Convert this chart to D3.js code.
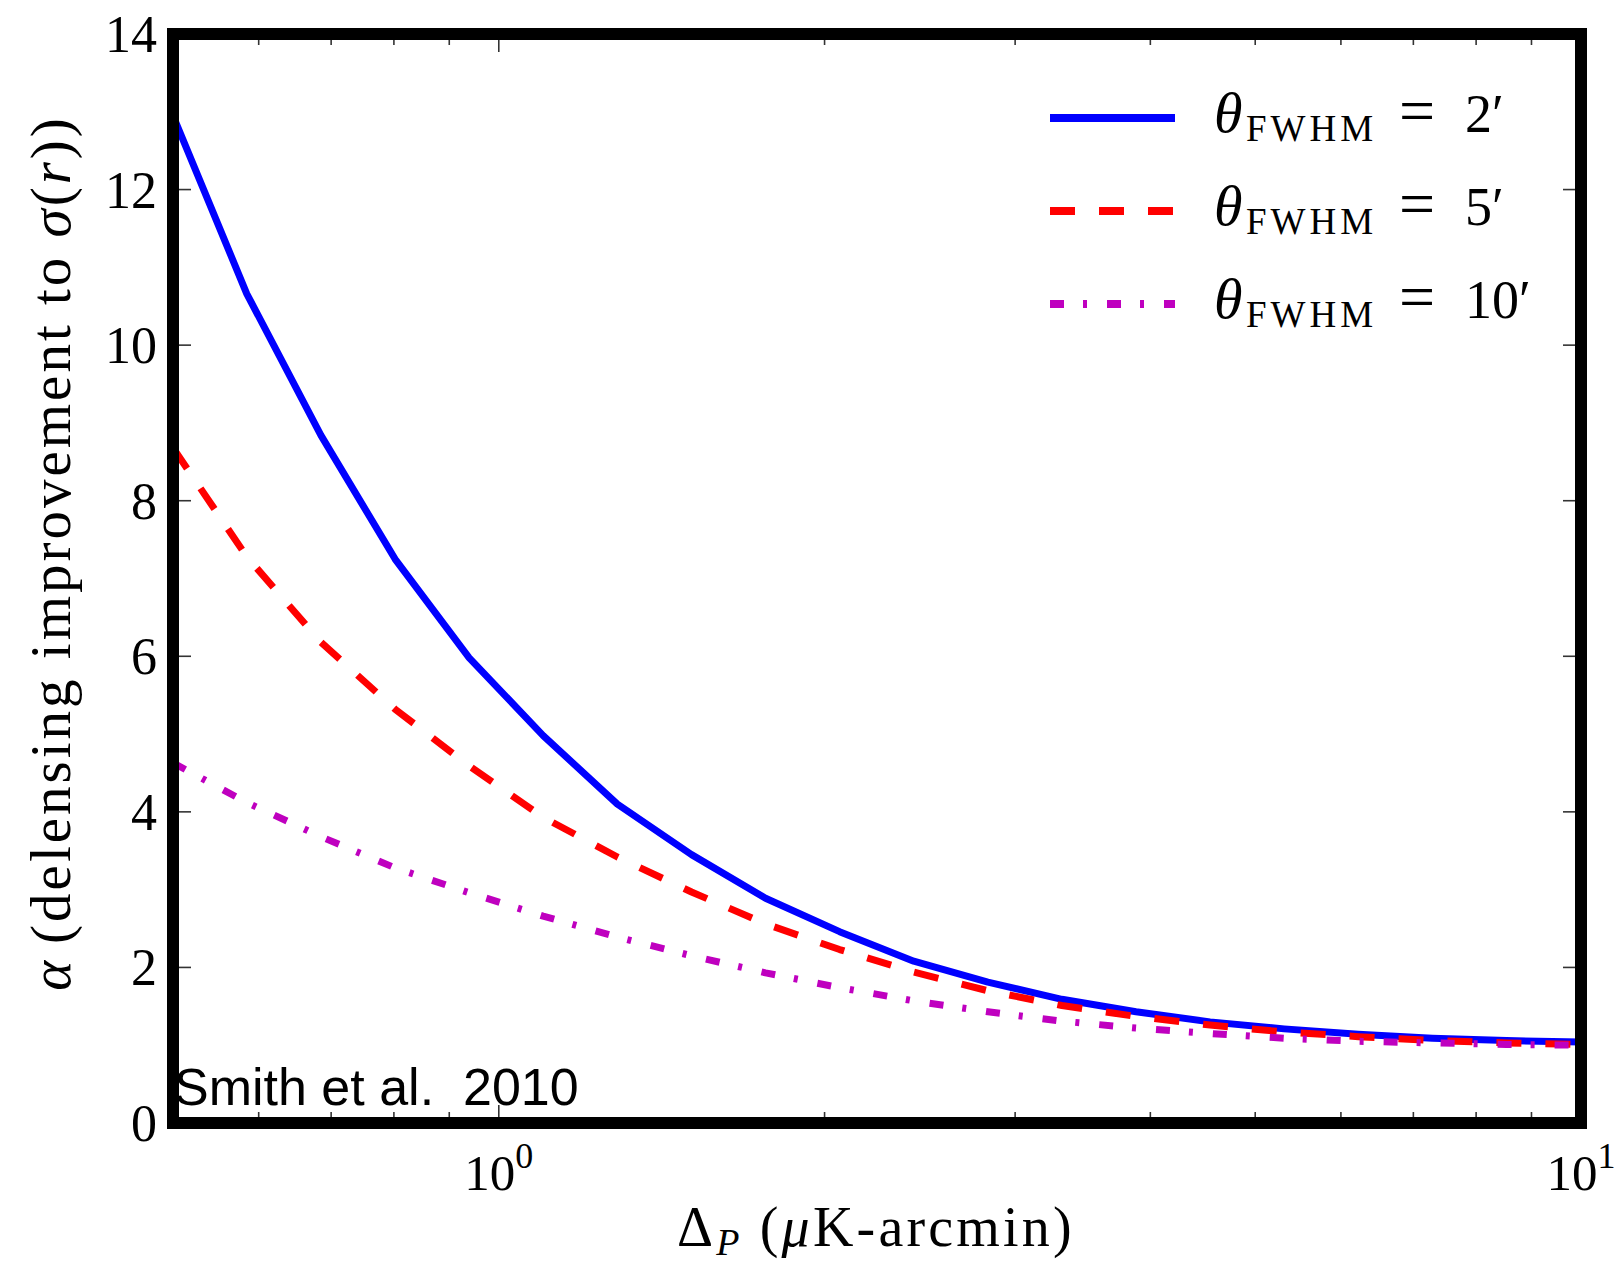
<!DOCTYPE html>
<html>
<head>
<meta charset="utf-8">
<script src="https://cdn.jsdelivr.net/npm/d3@7"></script>
<style>
  body { margin: 0; background: #fff; }
  svg { display: block; }
</style>
</head>
<body>
<svg id="chart" width="1622" height="1268"></svg>
<script>
// Polarization noise levels Delta_P (uK-arcmin), sampled log-evenly
const noiseLevels = [0.5, 0.585, 0.685, 0.802, 0.939, 1.099, 1.287, 1.507, 1.764, 2.065,
                     2.418, 2.831, 3.314, 3.880, 4.542, 5.318, 6.226, 7.289, 8.534, 10];

// Delensing improvement alpha for each beam size
const alphaBeam2 = [12.95, 10.66, 8.84, 7.25, 5.98, 4.98, 4.10, 3.45, 2.89, 2.46,
                    2.08, 1.81, 1.59, 1.43, 1.30, 1.21, 1.14, 1.09, 1.06, 1.04];
const alphaBeam5 = [8.68, 7.28, 6.18, 5.32, 4.59, 3.93, 3.42, 2.97, 2.56, 2.23,
                    1.94, 1.70, 1.51, 1.37, 1.26, 1.17, 1.11, 1.06, 1.03, 1.01];
const alphaBeam10 = [4.63, 4.12, 3.68, 3.28, 2.96, 2.66, 2.39, 2.15, 1.93, 1.74,
                     1.57, 1.43, 1.31, 1.22, 1.15, 1.09, 1.05, 1.03, 1.01, 1.00];

const beamLabels = ["2", "5", "10"];
const yTickValues = [0, 2, 4, 6, 8, 10, 12, 14];
const xMajorTicks = [1, 10];
const xMinorTicks = [0.6, 0.7, 0.8, 0.9, 2, 3, 4, 5, 6, 7, 8, 9];

const series = [
  { values: alphaBeam2,  label: beamLabels[0], color: "#0000ff", dash: null },
  { values: alphaBeam5,  label: beamLabels[1], color: "#ff0000", dash: "25,24" },
  { values: alphaBeam10, label: beamLabels[2], color: "#bf00bf", dash: "14,19,4,20" }
];

const svg = d3.select("#chart");
const serif = "'Liberation Serif', 'Times New Roman', serif";

const x = d3.scaleLog().domain([0.5, 10]).range([173, 1581]);
const y = d3.scaleLinear().domain([0, 14]).range([1123, 34]);

// clip curves to the plotting area
svg.append("defs").append("clipPath").attr("id", "plotClip")
  .append("rect")
  .attr("x", x.range()[0]).attr("y", y.range()[1])
  .attr("width", x.range()[1] - x.range()[0])
  .attr("height", y.range()[0] - y.range()[1]);

const line = d3.line()
  .x((d, i) => x(noiseLevels[i]))
  .y(d => y(d))
  .curve(d3.curveLinear);

const curves = svg.append("g").attr("clip-path", "url(#plotClip)");
series.forEach(s => {
  curves.append("path")
    .datum(s.values)
    .attr("d", line)
    .attr("fill", "none")
    .attr("stroke", s.color)
    .attr("stroke-width", 7)
    .attr("stroke-linejoin", "round")
    .attr("stroke-dasharray", s.dash);
});

// inward ticks on all four sides
const tickColor = "#333";
const ticks = svg.append("g").attr("stroke", tickColor).attr("stroke-width", 1.6);
const [x0, x1] = x.range();
const [yb, yt] = y.range();
yTickValues.forEach(v => {
  ticks.append("line").attr("x1", x0).attr("x2", x0 + 18).attr("y1", y(v)).attr("y2", y(v));
  ticks.append("line").attr("x1", x1).attr("x2", x1 - 18).attr("y1", y(v)).attr("y2", y(v));
});
xMajorTicks.forEach(v => {
  ticks.append("line").attr("x1", x(v)).attr("x2", x(v)).attr("y1", yb).attr("y2", yb - 18);
  ticks.append("line").attr("x1", x(v)).attr("x2", x(v)).attr("y1", yt).attr("y2", yt + 18);
});
xMinorTicks.forEach(v => {
  ticks.append("line").attr("x1", x(v)).attr("x2", x(v)).attr("y1", yb).attr("y2", yb - 11);
  ticks.append("line").attr("x1", x(v)).attr("x2", x(v)).attr("y1", yt).attr("y2", yt + 11);
});

// heavy frame
svg.append("rect")
  .attr("x", x0).attr("y", yt)
  .attr("width", x1 - x0).attr("height", yb - yt)
  .attr("fill", "none").attr("stroke", "#000").attr("stroke-width", 12);

// y tick labels
svg.append("g")
  .selectAll("text")
  .data(yTickValues)
  .join("text")
  .attr("x", 157)
  .attr("y", d => y(d) + 18)
  .attr("text-anchor", "end")
  .attr("font-family", serif)
  .attr("font-size", 52)
  .attr("fill", "#000")
  .text(d => d);

// x tick labels as powers of ten
const xLabels = svg.append("g").attr("font-family", serif).attr("fill", "#000");
xMajorTicks.forEach(v => {
  const t = xLabels.append("text")
    .attr("x", x(v))
    .attr("y", 1190)
    .attr("text-anchor", "middle")
    .attr("font-size", 51);
  t.append("tspan").text("10");
  t.append("tspan").attr("font-size", 36).attr("dy", -22).text(Math.round(Math.log10(v)));
});

// axis titles
const xTitle = svg.append("text")
  .attr("x", 876).attr("y", 1246)
  .attr("text-anchor", "middle")
  .attr("font-family", serif)
  .attr("font-size", 56)
  .attr("letter-spacing", 3.2)
  .attr("fill", "#000");
xTitle.append("tspan").text("Δ");
xTitle.append("tspan").attr("font-style", "italic").attr("font-size", 38).attr("dy", 9).text("P");
xTitle.append("tspan").attr("dy", -9).attr("dx", 17).text("(");
xTitle.append("tspan").attr("font-style", "italic").text("μ");
xTitle.append("tspan").text("K-arcmin)");

const yTitle = svg.append("text")
  .attr("transform", "translate(70,553) rotate(-90)")
  .attr("text-anchor", "middle")
  .attr("font-family", serif)
  .attr("font-size", 57)
  .attr("letter-spacing", 3)
  .attr("fill", "#000");
yTitle.append("tspan").attr("font-style", "italic").text("α");
yTitle.append("tspan").attr("dx", 14).text("(delensing improvement to ");
yTitle.append("tspan").attr("font-style", "italic").text("σ");
yTitle.append("tspan").text("(");
yTitle.append("tspan").attr("font-style", "italic").text("r");
yTitle.append("tspan").text("))");

// legend
const legend = svg.append("g");
series.forEach((s, i) => {
  const ly = 118 + i * 93;
  legend.append("line")
    .attr("x1", 1050).attr("x2", 1175)
    .attr("y1", ly).attr("y2", ly)
    .attr("stroke", s.color)
    .attr("stroke-width", 8)
    .attr("stroke-dasharray", s.dash);
  const t = legend.append("text")
    .attr("font-family", serif)
    .attr("fill", "#000");
  t.append("tspan").attr("x", 1214).attr("y", ly + 14)
    .attr("font-style", "italic").attr("font-size", 58).text("θ");
  t.append("tspan").attr("x", 1246).attr("y", ly + 23)
    .attr("font-size", 37).attr("letter-spacing", 4).text("FWHM");
  t.append("tspan").attr("x", 1399).attr("y", ly + 14)
    .attr("font-size", 64).text("=");
  t.append("tspan").attr("x", 1465).attr("y", ly + 14)
    .attr("font-size", 54).text(s.label + "′");
});

// citation note
svg.append("text")
  .attr("x", 174).attr("y", 1105)
  .attr("font-family", "'Liberation Sans', Arial, sans-serif")
  .attr("font-size", 52)
  .attr("fill", "#000")
  .attr("xml:space", "preserve")
  .style("white-space", "pre")
  .text("Smith et al.  2010");
</script>
</body>
</html>
